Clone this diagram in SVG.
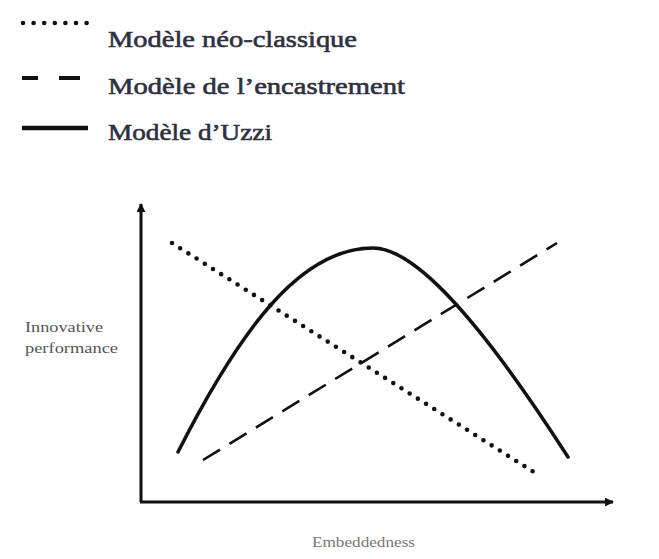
<svg xmlns="http://www.w3.org/2000/svg" width="659" height="559" viewBox="0 0 659 559">
  <defs>
    <style>
      .legend { font-family: "Liberation Serif", "DejaVu Serif", serif; font-size: 24px; fill: #2e3040; stroke: #2e3040; stroke-width: 0.6; }
      .axis-label { font-family: "Liberation Serif", "Times New Roman", serif; font-size: 15px; fill: #555; }
      .axis { stroke: #111; stroke-width: 3; fill: none; }
      .dotted { stroke: #111; stroke-width: 4.6; stroke-linecap: round; fill: none; }
      .dashed { stroke: #111; stroke-width: 2.6; fill: none; }
      .solid { stroke: #111; stroke-width: 3.5; fill: none; stroke-linecap: round; }
    </style>
    <marker id="arrow" viewBox="0 0 10 10" refX="9" refY="5" markerWidth="3" markerHeight="3" orient="auto" markerUnits="strokeWidth">
      <path d="M0,0 L10,5 L0,10 z" fill="#111"/>
    </marker>
  </defs>
  <rect width="659" height="559" fill="#fff"/>

  <!-- Legend -->
  <g id="legend-neo">
    <line class="dotted" x1="23" y1="23" x2="87" y2="23" stroke-width="3.6" stroke-dasharray="0 10.6"/>
    <text class="legend" x="108" y="47" textLength="249" lengthAdjust="spacingAndGlyphs">Modèle néo-classique</text>
  </g>
  <g id="legend-encastrement">
    <line x1="22" y1="78" x2="38" y2="78" stroke="#111" stroke-width="4"/>
    <line x1="59" y1="78" x2="80" y2="78" stroke="#111" stroke-width="4"/>
    <text class="legend" x="108" y="94" textLength="297" lengthAdjust="spacingAndGlyphs">Modèle de l’encastrement</text>
  </g>
  <g id="legend-uzzi">
    <line x1="22" y1="128" x2="88" y2="128" stroke="#111" stroke-width="4.5"/>
    <text class="legend" x="108" y="140" textLength="164" lengthAdjust="spacingAndGlyphs">Modèle d’Uzzi</text>
  </g>

  <!-- Axes -->
  <g id="axes">
    <line class="axis" x1="141" y1="502" x2="141" y2="204" marker-end="url(#arrow)"/>
    <line class="axis" x1="140" y1="502" x2="613" y2="502" marker-end="url(#arrow)"/>
    <text class="axis-label" x="25" y="332" textLength="78" lengthAdjust="spacingAndGlyphs">Innovative</text>
    <text class="axis-label" x="25" y="353" textLength="93" lengthAdjust="spacingAndGlyphs">performance</text>
    <text class="axis-label" x="312" y="547" textLength="103" lengthAdjust="spacingAndGlyphs" opacity="0.8">Embeddedness</text>
  </g>

  <!-- Curves -->
  <g id="connectors">
    <line id="neo-classique" class="dotted" x1="172" y1="243" x2="540" y2="476" stroke-dasharray="0 9.7"/>
    <line id="encastrement" class="dashed" x1="203" y1="460" x2="557" y2="243" stroke-dasharray="20 11"/>
    <path id="uzzi" class="solid" d="M178,452 C240,330 300,248 373,248 C415,248 480,320 568,457"/>
  </g>
</svg>
